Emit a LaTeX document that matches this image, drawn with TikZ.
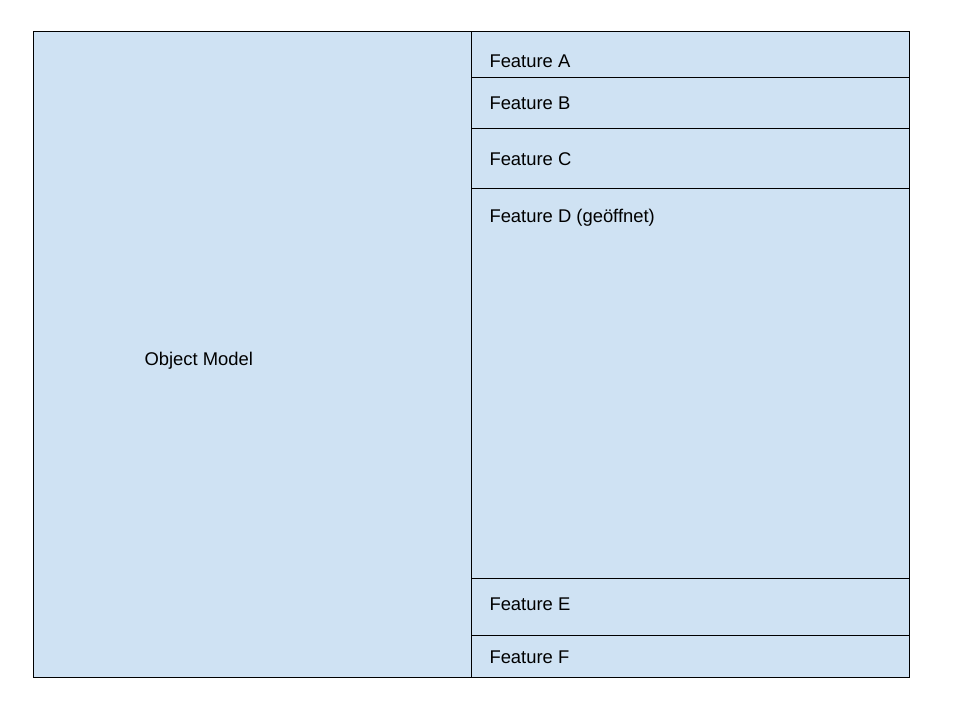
\documentclass[tikz,border=0pt]{standalone}
\usepackage{fontspec}
\setmainfont{Liberation Sans}
\definecolor{boxblue}{HTML}{CFE2F3}
\begin{document}
\begin{tikzpicture}[x=1pt,y=-1pt,line width=1pt,
   lbl/.style={anchor=west,inner sep=0pt,font=\fontsize{18.4}{22}\selectfont}]
   \useasboundingbox (0,0) rectangle (960,720);
   % 枠
   \draw [fill=boxblue](33,31) rectangle (909,677);
   \draw (471,31)--(471,677);
   % 区切り線
   \foreach \y in {77,128,188,578,635}
      \draw (471,\y)--(909,\y);

   \node [lbl] (om) at (144,360.5) {Object Model};
   \node [lbl] (fa) at (489,61.5) {Feature A};
   \node [lbl] (fb) at (489,103.5) {Feature B};
   \node [lbl] (fc) at (489,159.5) {Feature C};
   \node [lbl] (fd) at (489,217.5) {Feature D (geöffnet)};
   \node [lbl] (fe) at (489,604.5) {Feature E};
   \node [lbl] (ff) at (489,657.5) {Feature F};
\end{tikzpicture}
\end{document}
